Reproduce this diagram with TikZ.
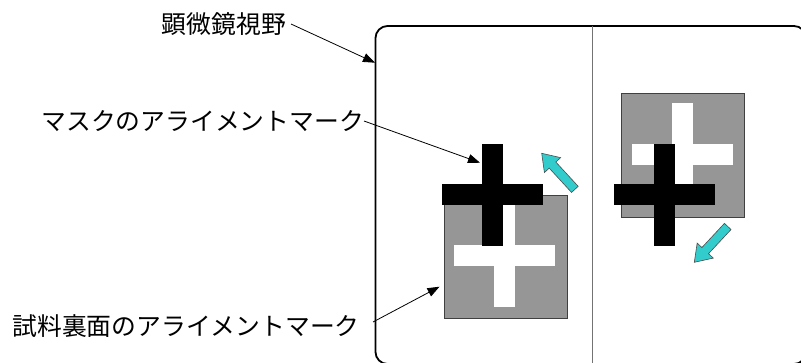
\documentclass[tikz,border=0pt]{standalone}
\usepackage{fontspec}
\newfontfamily\jp{Noto Sans CJK JP}
\usetikzlibrary{arrows.meta}
\definecolor{sqgray}{HTML}{969696}
\definecolor{cyanarr}{HTML}{33CCCC}
\tikzset{
  lbl/.style={font=\jp\fontsize{24.8}{28}\selectfont, inner sep=0pt, anchor=east},
  leader/.style={line width=0.8pt, -{Triangle[length=12pt,width=9pt]}},
  sq/.style={fill=sqgray, draw=black!75, line width=1pt},
  pics/blackcross/.style={code={
    \fill[black] (-50.5,-10.5) rectangle (50.5,10.5);
    \fill[black] (-10.5,-51) rectangle (10.5,51);}},
  pics/whitecross/.style={code={
    \fill[white] (-50.5,-10.5) rectangle (50.5,10.5);
    \fill[white] (-10.5,-51) rectangle (10.5,51);}},
  pics/movearrow/.style={code={
    \draw[fill=cyanarr, draw=black!70, line width=0.6pt, line join=miter]
      (0,0) -- (-16,-11) -- (-16,-4.5) -- (-49,-4.5) -- (-49,4.5) -- (-16,4.5) -- (-16,11) -- cycle;}}
}
\begin{document}
\begin{tikzpicture}[x=1pt,y=-1pt]
  \useasboundingbox (0,0) rectangle (801,362);
  \clip (0,0) rectangle (801,362);
  \fill[white] (0,0) rectangle (801,362);
  % microscope field of view
  \draw[line width=1.8pt, rounded corners=12pt] (375.5,26) rectangle (806,364);
  \draw[black!55, line width=1.2pt] (592.5,26) -- (592.5,364);
  % left view
  \draw[sq] (444,195) rectangle (567,318);
  \pic at (504.5,255.5) {whitecross};
  \pic at (492.5,194.5) {blackcross};
  \pic[rotate=132.6] at (541.7,153.3) {movearrow};
  % right view
  \draw[sq] (621,93) rectangle (744,217);
  \pic at (682,154) {whitecross};
  \pic at (664.5,194.5) {blackcross};
  \pic[rotate=227] at (694.3,262.3) {movearrow};
  % labels
  \node[lbl] (field) at (286,24) {顕微鏡視野};
  \node[lbl] (mask) at (364,121) {マスクのアライメントマーク};
  \node[lbl] (back) at (360,326) {試料裏面のアライメントマーク};
  \coordinate (fieldtip) at (375,62.7);
  \coordinate (masktip) at (480,162.7);
  \coordinate (backtip) at (439.5,286.7);
  \draw[leader] ([xshift=5pt]field.east) -- (fieldtip);
  \draw[leader] (mask.east) -- (masktip);
  \draw[leader] ([xshift=13pt,yshift=4pt]back.east) -- (backtip);
\end{tikzpicture}
\end{document}
